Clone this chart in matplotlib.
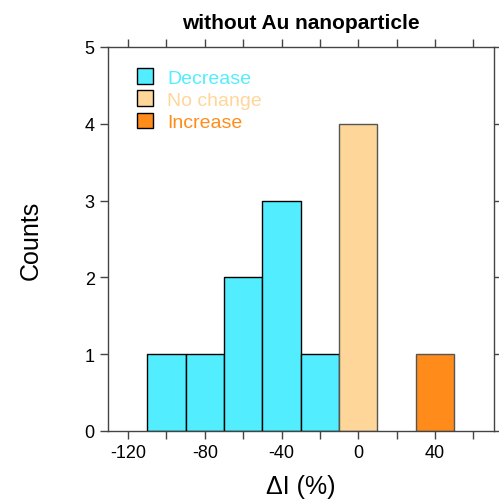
import matplotlib
matplotlib.use("Agg")
import matplotlib.pyplot as plt
from matplotlib.patches import Patch

plt.rcParams['font.family'] = ['Liberation Sans', 'DejaVu Sans']
plt.rcParams['axes.unicode_minus'] = False

bin_lefts = [-110, -90, -70, -50, -30, -10, 30]
counts = [1, 1, 2, 3, 1, 4, 1]
groups = ['Decrease', 'Decrease', 'Decrease', 'Decrease', 'Decrease', 'No change', 'Increase']
bin_width = 20
group_colors = {'Decrease': '#52EEFF', 'No change': '#FFD699', 'Increase': '#FF8C1A'}
group_edges = {'Decrease': '#000000', 'No change': '#555555', 'Increase': '#555555'}
legend_labels = ['Decrease', 'No change', 'Increase']

fig = plt.figure(figsize=(4.99, 5.02), dpi=100)
ax = fig.add_axes([108/499, 70/502, 386/499, 384/502])

for x, c, g in zip(bin_lefts, counts, groups):
    ax.bar(x, c, width=bin_width, align='edge', color=group_colors[g],
           edgecolor=group_edges[g], linewidth=1)

ax.set_xlim(-130.5, 70.8)
ax.set_ylim(0, 5)
ax.set_xticks([-120, -80, -40, 0, 40])
ax.set_xticks(range(-120, 71, 20), minor=True)
ax.set_yticks(range(0, 6))
ax.tick_params(axis='both', which='both', direction='out', length=6, width=1,
               labelsize=13, top=True, right=True, color='#444444')
ax.tick_params(axis='x', which='minor', top=True, bottom=True)
for s in ax.spines.values():
    s.set_color('#444444')
    s.set_linewidth(1)

ax.set_xlabel('ΔI (%)', fontsize=18, labelpad=9)
ax.set_ylabel('Counts', fontsize=18, labelpad=30)
ax.set_title('without Au nanoparticle', fontsize=15, fontweight='bold', pad=14)

handles = [Patch(facecolor=group_colors[g], edgecolor='black', linewidth=1) for g in legend_labels]
leg = ax.legend(handles, legend_labels, loc='upper left', bbox_to_anchor=(0.075, 0.945),
                borderaxespad=0, borderpad=0,
                frameon=False, fontsize=14, handlelength=0.82, handleheight=0.87,
                handletextpad=0.72, labelspacing=0.19,
                labelcolor=[group_colors[g] for g in legend_labels])

fig.savefig('out.png', dpi=100)
